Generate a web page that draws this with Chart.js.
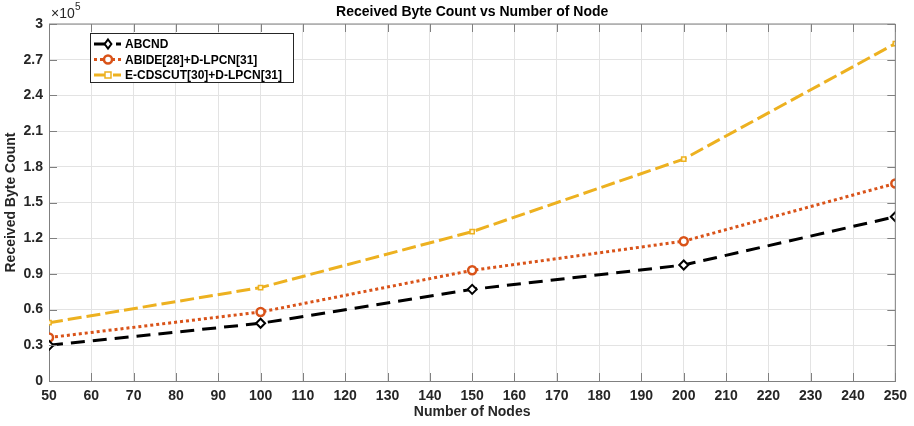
<!DOCTYPE html>
<html>
<head>
<meta charset="utf-8">
<script src="https://cdn.jsdelivr.net/npm/chart.js@4"></script>
<style>
  html, body { margin: 0; padding: 0; background: #fff; }
  #wrap { width: 914px; height: 426px; position: relative; }
</style>
</head>
<body>
<div id="wrap"><canvas id="mychart" width="914" height="426"></canvas></div>
<script>
// data (values in bytes)
const nodes = [50, 100, 150, 200, 250];
const abcnd = [30000, 48500, 77000, 97500, 138000];
const abide = [36500, 58000, 93000, 117500, 166000];
const ecdscut = [49000, 78500, 125500, 186500, 283500];

const xTicks = [50, 60, 70, 80, 90, 100, 110, 120, 130, 140, 150, 160, 170, 180, 190, 200, 210, 220, 230, 240, 250];
const yTicks = [0, 30000, 60000, 90000, 120000, 150000, 180000, 210000, 240000, 270000, 300000];
const yTickLabels = ['0', '0.3', '0.6', '0.9', '1.2', '1.5', '1.8', '2.1', '2.4', '2.7', '3'];

const seriesNames = ['ABCND', 'ABIDE[28]+D-LPCN[31]', 'E-CDSCUT[30]+D-LPCN[31]'];

const FONT = '"Liberation Sans", Arial, sans-serif';

function pts(vals) {
  return nodes.map((n, i) => ({ x: n, y: vals[i] }));
}

// frame, inside ticks, title, exponent and legend
const decor = {
  id: 'decor',
  afterDraw(chart) {
    const ctx = chart.ctx;
    const a = chart.chartArea;
    const xs = chart.scales.x, ys = chart.scales.y;
    ctx.save();
    ctx.strokeStyle = '#808080';
    ctx.lineWidth = 1;
    ctx.beginPath();
    ctx.moveTo(a.left, a.top); ctx.lineTo(a.right, a.top); ctx.lineTo(a.right, a.bottom);
    ctx.stroke();
    ctx.beginPath();
    xTicks.forEach(t => {
      const px = Math.round(xs.getPixelForValue(t)) + 0.5;
      ctx.moveTo(px, a.bottom); ctx.lineTo(px, a.bottom - 8);
      ctx.moveTo(px, a.top); ctx.lineTo(px, a.top + 8);
    });
    yTicks.forEach(t => {
      const py = Math.round(ys.getPixelForValue(t)) + 0.5;
      ctx.moveTo(a.left, py); ctx.lineTo(a.left + 8, py);
      ctx.moveTo(a.right, py); ctx.lineTo(a.right - 8, py);
    });
    ctx.stroke();

    // title
    ctx.fillStyle = '#000';
    ctx.font = 'bold 14px ' + FONT;
    ctx.textAlign = 'center';
    ctx.textBaseline = 'middle';
    ctx.fillText('Received Byte Count vs Number of Node', (a.left + a.right) / 2, 12);

    // exponent
    ctx.fillStyle = '#262626';
    ctx.textAlign = 'left';
    ctx.font = '14px ' + FONT;
    ctx.fillText('\u00d710', a.left + 2, 14);
    ctx.font = '10px ' + FONT;
    ctx.fillText('5', a.left + 26, 7);

    // legend
    const lx = 90, ly = 33, lw = 203, lh = 49;
    ctx.fillStyle = '#fff';
    ctx.fillRect(lx, ly, lw, lh);
    ctx.strokeStyle = '#262626';
    ctx.lineWidth = 1;
    ctx.strokeRect(lx + 0.5, ly + 0.5, lw, lh);
    chart.data.datasets.forEach((ds, i) => {
      const y = ly + 11 + i * 15.5;
      ctx.save();
      ctx.strokeStyle = ds.borderColor;
      ctx.lineWidth = ds.borderWidth;
      ctx.setLineDash(ds.borderDash);
      ctx.beginPath();
      ctx.moveTo(94, y); ctx.lineTo(121, y);
      ctx.stroke();
      ctx.restore();
      ctx.save();
      ctx.strokeStyle = ds.pointBorderColor;
      ctx.fillStyle = '#fff';
      ctx.lineWidth = ds.pointBorderWidth;
      const cx = 108, r = ds.pointRadius;
      ctx.beginPath();
      if (ds.pointStyle === 'rectRot') {
        ctx.moveTo(cx, y - r); ctx.lineTo(cx + r * 0.75, y); ctx.lineTo(cx, y + r); ctx.lineTo(cx - r * 0.75, y); ctx.closePath();
      } else if (ds.pointStyle === 'circle') {
        ctx.arc(cx, y, r, 0, Math.PI * 2);
      } else {
        ctx.rect(cx - r, y - r, 2 * r, 2 * r);
      }
      ctx.fill(); ctx.stroke();
      ctx.restore();
      ctx.fillStyle = '#000';
      ctx.font = 'bold 12px ' + FONT;
      ctx.textAlign = 'left';
      ctx.textBaseline = 'middle';
      ctx.fillText(seriesNames[i], 125, y + 1);
    });
    ctx.restore();
  }
};

const chart = document.getElementById('mychart').getContext('2d');
let byteChart = new Chart(chart, {
  type: 'line',
  data: {
    datasets: [
      {
        label: seriesNames[0],
        data: pts(abcnd),
        borderColor: '#000000',
        borderWidth: 3,
        borderDash: [14, 8],
        pointStyle: 'rectRot',
        pointRadius: 4.5,
        pointBorderColor: '#000000',
        pointBackgroundColor: '#ffffff',
        pointBorderWidth: 2,
        tension: 0
      },
      {
        label: seriesNames[1],
        data: pts(abide),
        borderColor: '#D95319',
        borderWidth: 3,
        borderDash: [3, 3],
        pointStyle: 'circle',
        pointRadius: 4,
        pointBorderColor: '#D95319',
        pointBackgroundColor: '#ffffff',
        pointBorderWidth: 2.5,
        tension: 0
      },
      {
        label: seriesNames[2],
        data: pts(ecdscut),
        borderColor: '#EDB120',
        borderWidth: 3,
        borderDash: [14, 5],
        pointStyle: 'rect',
        pointRadius: 3,
        pointBorderColor: '#EDB120',
        pointBackgroundColor: '#fff5d6',
        pointBorderWidth: 1.5,
        tension: 0
      }
    ]
  },
  options: {
    responsive: false,
    animation: false,
    layout: { padding: { top: 24, right: 17, left: 0, bottom: 0 } },
    plugins: {
      legend: { display: false },
      title: { display: false },
      tooltip: { enabled: false }
    },
    scales: {
      x: {
        type: 'linear',
        min: 50,
        max: 250,
        afterBuildTicks: s => { s.ticks = xTicks.map(v => ({ value: v })); },
        afterFit: s => { s.height = 45; },
        grid: { color: '#e3e3e3', drawTicks: false },
        border: { color: '#808080', width: 1 },
        ticks: {
          color: '#262626',
          font: { family: FONT, size: 14, weight: 'bold' },
          padding: 7,
          maxRotation: 0,
          autoSkip: false
        },
        title: {
          display: true,
          text: 'Number of Nodes',
          color: '#262626',
          font: { family: FONT, size: 14, weight: 'bold' },
          padding: { top: 0, bottom: 5 }
        }
      },
      y: {
        min: 0,
        max: 300000,
        afterBuildTicks: s => { s.ticks = yTicks.map(v => ({ value: v })); },
        afterFit: s => { s.width = 49; },
        grid: { color: '#e3e3e3', drawTicks: false },
        border: { color: '#808080', width: 1 },
        ticks: {
          color: '#262626',
          font: { family: FONT, size: 14, weight: 'bold' },
          padding: 6,
          callback: (v) => yTickLabels[yTicks.indexOf(v)]
        },
        title: {
          display: true,
          text: 'Received Byte Count',
          color: '#262626',
          font: { family: FONT, size: 14, weight: 'bold' },
          padding: { top: 3, bottom: 0 }
        }
      }
    }
  },
  plugins: [decor]
});
</script>
</body>
</html>
